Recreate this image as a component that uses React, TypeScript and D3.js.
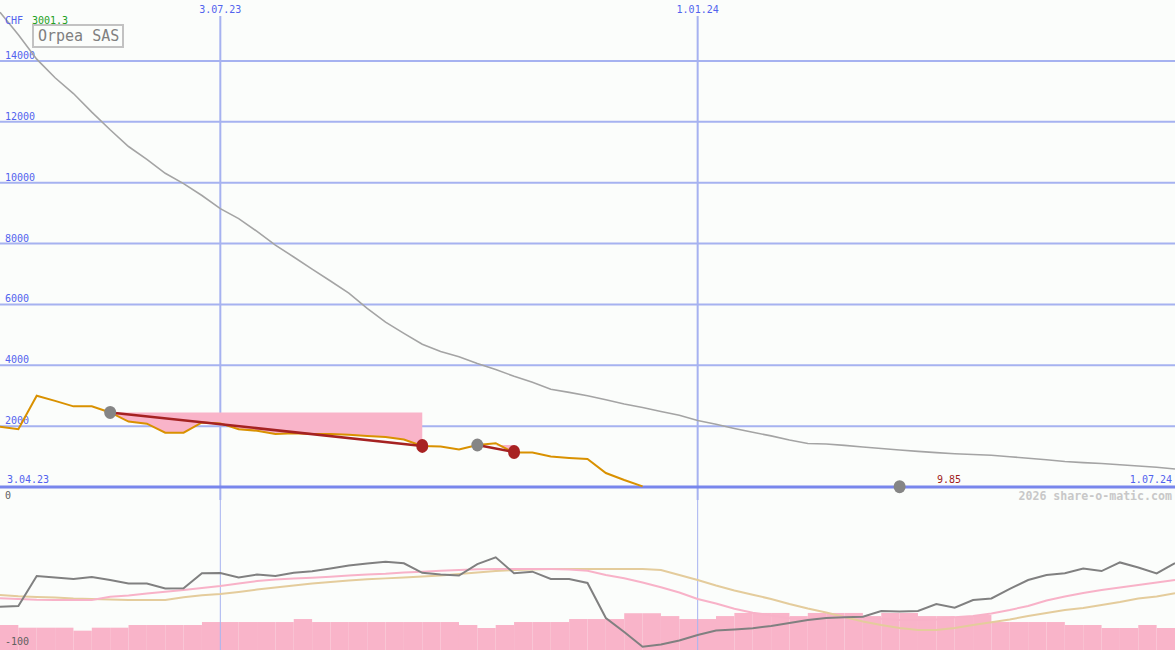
import React from 'react';
import * as d3 from 'd3';

const W = 1175;
const H = 650;
const FONT = '"DejaVu Sans Mono", monospace';

// weekly sample dates, 10.04.23 .. 1.07.24
const weeks = d3.timeMonday.range(new Date(2023, 3, 10), new Date(2024, 6, 2));

// price (CHF), ends when the share is wiped out
const price = [1980, 1900, 3000, 2830, 2650, 2650, 2450, 2150, 2080, 1785, 1785, 2120, 2090, 1900, 1850, 1740,
    1770, 1740, 1740, 1720, 1680, 1640, 1560, 1350, 1330, 1230, 1380, 1440, 1130, 1130, 1000, 955, 920, 460, 230, 20];

// long moving average (grey)
const avgLong = [15600, 14860, 14060, 13450, 12930, 12320, 11740, 11190, 10770, 10310, 9970, 9580, 9150, 8820, 8400,
    7950, 7560, 7160, 6770, 6370, 5870, 5420, 5050, 4690, 4450, 4280, 4060, 3860, 3640, 3440, 3210, 3110, 3000, 2870,
    2730, 2610, 2480, 2360, 2185, 2060, 1925, 1800, 1680, 1545, 1432, 1415, 1368, 1317, 1265, 1215, 1170, 1130, 1095,
    1070, 1045, 995, 945, 895, 840, 800, 770, 730, 690, 650, 590];

// lower panel: oscillator (-100..0)
const osc = [-71.6, -71.1, -51, -52, -53, -51.7, -53.7, -56, -56, -59.4, -59.3, -49.2, -49, -52, -50, -51, -48.8,
    -47.8, -46, -44, -42.6, -41.4, -42.5, -48.9, -50, -50.7, -43, -38.5, -49.2, -48.1, -53, -53, -55.7, -79.2, -88.6,
    -98.5, -97, -94.3, -90.6, -87.6, -86.9, -86, -84.6, -82.6, -80.5, -79.2, -78.7, -78.3, -74.5, -74.8, -74.5, -69.8,
    -72.3, -67.1, -66.1, -59.7, -53.7, -50.3, -49.2, -46, -47.7, -41.9, -45.3, -49.3, -42.3];

const oscFast = [-66, -66.4, -66.9, -67.1, -67.1, -67.1, -64.9, -64.1, -62.8, -61.6, -60.4, -59.1, -57.7, -56, -54.4,
    -53.4, -52.7, -52.2, -51.5, -50.7, -50, -49.5, -48.7, -48.1, -47.5, -47, -46.5, -46.3, -46.3, -46.3, -46.3, -46.6,
    -47.5, -50.3, -52.5, -55.4, -58.6, -62.1, -66.4, -69.5, -73, -75.6, -77.5, -79.4, -79.9, -78.9, -78.3, -78.7, -79.7,
    -80.5, -80.5, -80.2, -78.7, -77.9, -76.2, -73.8, -71.1, -67.4, -64.8, -62.4, -60.4, -58.7, -57, -55.4, -53.7];

const oscSlow = [-63.8, -64.6, -65.1, -65.4, -66.1, -66.4, -66.8, -67.1, -67.1, -67.1, -65.3, -64, -63.1, -61.7, -60.1,
    -58.7, -57.4, -56, -55, -54, -53.2, -52.6, -52, -51.3, -50.7, -49.7, -48.7, -47.7, -47, -46.6, -46.3, -46.3, -46.3,
    -46.3, -46.3, -46.3, -47, -50.3, -53.7, -57.4, -60.7, -63.6, -66.4, -69.8, -72.8, -75.5, -78.5, -81.5, -83.9, -85.9,
    -87.2, -87.2, -85.9, -83.9, -82.1, -80.2, -77.9, -75.8, -73.8, -72.5, -70.5, -68.5, -66.1, -64.8, -62.6];

const oscBars = [-83.9, -85.7, -85.7, -85.7, -87.7, -85.7, -85.7, -83.9, -83.9, -83.9, -83.9,
    -81.9, -81.9, -81.9, -81.9, -81.9, -79.9,
    -81.9, -81.9, -81.9, -81.9, -81.9, -81.9, -81.9, -81.9,
    -83.9, -85.9, -83.9, -81.9, -81.9, -81.9, -79.9, -79.9, -79.9, -76, -76, -77.9, -79.9, -79.9, -77.9,
    -75.8, -75.8, -75.8, -77.9, -75.8, -75.8, -75.8, -77.9, -75.8, -75.8, -77.9, -77.9, -78.5, -77.2,
    -81.9, -81.9, -81.9, -81.9, -83.9, -83.9, -85.9, -85.9, -83.9, -85.9];

// trades: buy week index / value, sell week index / value
const buys = [{i: 6, v: 2450}, {i: 26, v: 1380}, {i: 49, v: 9.85}];
const sells = [{i: 23, v: 1350}, {i: 28, v: 1150}];

const yTicks = [2000, 4000, 6000, 8000, 10000, 12000, 14000];
const dateTicks = [{d: new Date(2023, 6, 3), label: '3.07.23'}, {d: new Date(2024, 0, 1), label: '1.01.24'}];

const App: React.FC = () => {
    const x = d3.scaleTime().domain([weeks[0], weeks[weeks.length - 1]]).range([0, W]);
    const y = d3.scaleLinear().domain([0, 14000]).range([487, 61]);
    const yLow = d3.scaleLinear().domain([-100, 0]).range([649, 500]);

    const line = d3.line<number>().x((_, i) => x(weeks[i])).y(d => y(d));
    const lowLine = d3.line<number>().x((_, i) => x(weeks[i])).y(d => yLow(d));

    const trades = buys.slice(0, sells.length).map((b, k) => {
        const s = sells[k];
        const idx = d3.range(b.i, s.i + 1);
        const area = d3.area<number>()
            .x(i => x(weeks[i]))
            .y0(() => y(b.v))
            .y1(i => y(Math.min(b.v, price[i])));
        return {b, s, path: area(idx) || ''};
    });

    const grid = '#a6b2f0';
    const blue = '#5263ee';

    return (
        <svg width={W} height={H} style={{position: 'absolute', left: 0, top: 0, display: 'block'}}
             fontFamily={FONT}>
            <rect width={W} height={H} fill="#fbfdfb"/>

            {/* lower panel bars */}
            {oscBars.map((v, i) => (
                <rect key={i} x={x(weeks[i])} width={x(weeks[i + 1]) - x(weeks[i])}
                      y={yLow(v)} height={H - yLow(v)} fill="#f9b4c9"/>
            ))}

            {/* grid */}
            {yTicks.map(t => (
                <line key={t} x1={0} x2={W} y1={y(t)} y2={y(t)} stroke={grid} strokeWidth={2}/>
            ))}
            {dateTicks.map(t => (
                <g key={t.label}>
                    <line x1={x(t.d)} x2={x(t.d)} y1={16} y2={500} stroke={grid} strokeWidth={2}/>
                    <line x1={x(t.d)} x2={x(t.d)} y1={500} y2={H} stroke={grid} strokeWidth={1}/>
                    <text x={x(t.d)} y={13} textAnchor="middle" fontSize={10} fill={blue}>{t.label}</text>
                </g>
            ))}
            <line x1={0} x2={W} y1={y(0)} y2={y(0)} stroke="#7886ec" strokeWidth={3}/>

            {yTicks.map(t => (
                <text key={t} x={5} y={y(t) - 2} fontSize={10} fill={blue}>{t}</text>
            ))}

            {/* lower panel lines */}
            <path d={lowLine(oscSlow) || ''} fill="none" stroke="#e4cc9c" strokeWidth={2}/>
            <path d={lowLine(oscFast) || ''} fill="none" stroke="#f8b2c8" strokeWidth={2}/>
            <path d={lowLine(osc) || ''} fill="none" stroke="#808080" strokeWidth={2}/>

            {/* trade areas */}
            {trades.map((t, k) => <path key={k} d={t.path} fill="#f9b4c9"/>)}

            {/* long average and price */}
            <path d={line(avgLong) || ''} fill="none" stroke="#a4a4a4" strokeWidth={1.6}/>
            <path d={line(price) || ''} fill="none" stroke="#d99100" strokeWidth={2}/>

            {trades.map((t, k) => (
                <line key={k} x1={x(weeks[t.b.i])} y1={y(t.b.v)} x2={x(weeks[t.s.i])} y2={y(t.s.v)}
                      stroke="#a52222" strokeWidth={2.5}/>
            ))}
            {sells.map((s, k) => (
                <ellipse key={k} cx={x(weeks[s.i])} cy={y(s.v)} rx={6} ry={7} fill="#a82222"/>
            ))}
            {buys.map((b, k) => (
                <ellipse key={k} cx={x(weeks[b.i])} cy={y(b.v)} rx={6} ry={6.5} fill="#858585"/>
            ))}

            {/* labels */}
            <text x={5} y={24} fontSize={10} fill={blue}>CHF</text>
            <text x={32} y={24} fontSize={10} fill="#22a022">3001.3</text>
            <rect x={33} y={25} width={90} height={22} fill="#fbfdfb" stroke="#c2c2c2" strokeWidth={2}/>
            <text x={38} y={41} fontSize={15} fill="#808080">Orpea SAS</text>

            <text x={7} y={483} fontSize={10} fill={blue}>3.04.23</text>
            <text x={1172} y={483} fontSize={10} fill={blue} textAnchor="end">1.07.24</text>
            <text x={937} y={483} fontSize={10} fill="#a01c1c">9.85</text>
            <text x={5} y={499} fontSize={10} fill="#606060">0</text>
            <text x={1172} y={500} fontSize={11.6} fontWeight="bold" fill="#c8c8c8" textAnchor="end">
                2026 share-o-matic.com
            </text>
            <text x={5} y={645} fontSize={10} fill="#606060">-100</text>
        </svg>
    );
};

export default App;
